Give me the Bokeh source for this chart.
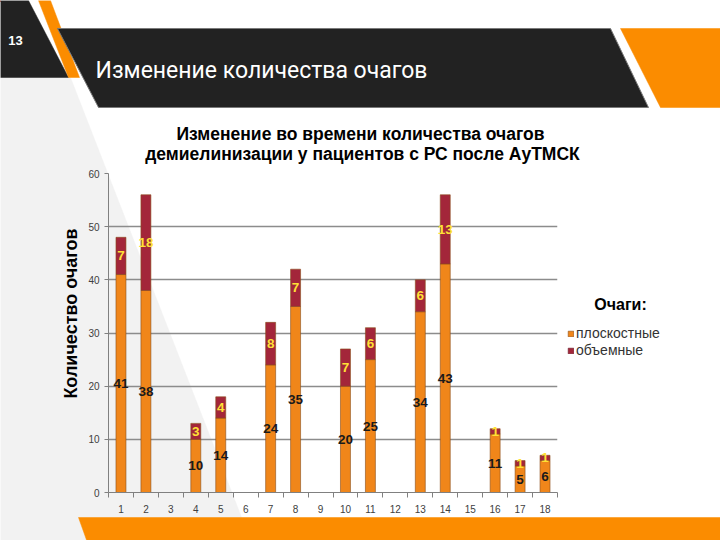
import math
from bokeh.plotting import figure
from bokeh.models import (Range1d, FixedTicker, Label, Legend, LegendItem,
                          ColumnDataSource, GridBox)
from bokeh.core.properties import value
from bokeh.embed import file_html
from bokeh.resources import INLINE

# ---- data ----
patients = list(range(1, 19))
flat = [41, 38, 0, 10, 14, 0, 24, 35, 0, 20, 25, 0, 34, 43, 0, 11, 5, 6]
vol = [7, 18, 0, 3, 4, 0, 8, 7, 0, 7, 6, 0, 6, 13, 0, 1, 1, 1]
y_ticks = [0, 10, 20, 30, 40, 50, 60]
series_names = ["плоскостные", "объемные"]
chart_title = ["Изменение во времени количества очагов",
               "демиелинизации у пациентов с РС после АуТМСК"]
y_title = "Количество очагов"
legend_title = "Очаги:"
slide_title = "Изменение количества очагов"
slide_num = "13"

ORANGE = "#F0861A"
RED = "#A3263A"
DARK = "#222222"
BRIGHT = "#FB8C00"
FONT = "Liberation Sans"

W, H = 720, 540
FL, FT, FR, FB = 108, 173, 557, 492  # chart frame edges in canvas px


# ---------------- background (slide) figure ----------------
bg = figure(width=W, height=H, output_backend="svg", toolbar_location=None,
            x_range=Range1d(0, W), y_range=Range1d(H, 0),
            x_axis_location=None, y_axis_location=None,
            min_border=0)
bg.grid.visible = False
bg.outline_line_color = None
bg.background_fill_color = "white"
bg.border_fill_color = "white"

shapes = [
    ([(0, 77), (70, 77), (252, 545), (0, 545)], "#F2F2F2", None),
    ([(0, 0), (28, 0), (68, 77), (0, 77)], DARK, None),
    ([(38, 0), (50, 0), (79, 77), (68, 77)], BRIGHT, None),
    ([(57, 28), (610, 28), (648, 107), (98, 107)], DARK, "#7a7a7a"),
    ([(620, 28), (725, 28), (725, 107), (660, 107)], BRIGHT, None),
    ([(78, 517), (725, 517), (725, 545), (88, 545)], BRIGHT, None),
]
for pts, col, lc in shapes:
    bg.patch([a for a, b in pts], [b for a, b in pts],
             fill_color=col, line_color=lc if lc else col,
             line_width=1 if lc else 0.5)


def label(text, x, y, size, color="black", bold=True, font=FONT,
          align="center", angle=0.0):
    bg.add_layout(Label(x=x, y=y, text=text, text_font=font,
                        text_font_size=size,
                        text_font_style="bold" if bold else "normal",
                        text_color=color, text_align=align,
                        text_baseline="middle", angle=angle))


label(chart_title[0], 360, 133, "17.5px")
label(chart_title[1], 362, 153, "17.5px")
label(y_title, 70, 313, "18px", angle=math.pi / 2)
label(legend_title, 620, 304, "16px")
label(slide_title, 95, 70, "23px", color="white", bold=False, font="Roboto",
      align="left")
label(slide_num, 15, 40, "13px", color="white")

# legend proxies (off-canvas) on the background figure
proxy = ColumnDataSource(dict(x=[-1000], top=[1]))
pr1 = bg.vbar(x="x", top="top", width=1, source=proxy, fill_color=ORANGE,
              line_color="#8a4e1a", line_width=0.6)
pr2 = bg.vbar(x="x", top="top", width=1, source=proxy, fill_color=RED,
              line_color="#6a1a26", line_width=0.6)
legend = Legend(items=[LegendItem(label=series_names[0], renderers=[pr1]),
                       LegendItem(label=series_names[1], renderers=[pr2])],
                location=(567, H - 358.5), orientation="vertical",
                glyph_width=7, glyph_height=7, label_height=17, spacing=0,
                padding=0, margin=0, label_standoff=2,
                label_text_font=FONT, label_text_font_size="14px",
                label_text_color="#333333",
                border_line_color=None, background_fill_alpha=0)
bg.add_layout(legend)

# ---------------- chart figure (overlay) ----------------
p = figure(width=W, height=H, output_backend="svg", toolbar_location=None,
           x_range=Range1d(0.5, 18.5), y_range=Range1d(0, 60),
           min_border_left=FL, min_border_right=W - FR,
           min_border_top=FT, min_border_bottom=H - FB)
p.background_fill_color = None
p.border_fill_color = None
p.outline_line_color = None

for fig in (bg, p):
    if "frame_align" in fig.properties():
        fig.frame_align = False

src = ColumnDataSource(dict(x=patients, flat=flat, vol=vol))
p.vbar_stack(["flat", "vol"], x="x", width=0.4, color=[ORANGE, RED],
             source=src, line_color="#8a4e1a", line_width=0.6)

fx = [x for x, f in zip(patients, flat) if f > 0]
fy = [f / 2 for f in flat if f > 0]
ft = [str(f) for f in flat if f > 0]
vx = [x for x, v in zip(patients, vol) if v > 0]
vy = [f + v / 2 for f, v in zip(flat, vol) if v > 0]
vt = [str(v) for v in vol if v > 0]
p.text(x=fx, y=fy, text=ft, text_font=value(FONT), text_font_style="bold",
       text_font_size="13.5px", text_color="#1a1a1a", text_align="center",
       text_baseline="middle")
p.text(x=vx, y=vy, text=vt, text_font=value(FONT), text_font_style="bold",
       text_font_size="13.5px", text_color="#FFE135", text_align="center",
       text_baseline="middle")

p.yaxis.ticker = FixedTicker(ticks=y_ticks)
p.yaxis.major_label_text_font = FONT
p.yaxis.major_label_text_font_size = "10px"
p.yaxis.major_label_text_color = "#404040"
p.yaxis.axis_line_color = "#808080"
p.yaxis.major_tick_line_color = "#808080"
p.yaxis.major_tick_out = 4
p.yaxis.major_tick_in = 0
p.yaxis.minor_tick_line_color = None

p.xaxis.ticker = FixedTicker(ticks=patients,
                             minor_ticks=[i + 0.5 for i in range(0, 19)])
p.xaxis.major_label_text_font = FONT
p.xaxis.major_label_text_font_size = "10px"
p.xaxis.major_label_text_color = "#404040"
p.xaxis.axis_line_color = "#808080"
p.xaxis.major_tick_line_color = None
p.xaxis.minor_tick_line_color = "#808080"
p.xaxis.minor_tick_out = 5
p.xaxis.minor_tick_in = 0
p.xaxis.major_label_standoff = 6

p.xgrid.grid_line_color = None
p.ygrid.ticker = FixedTicker(ticks=y_ticks)
p.ygrid.grid_line_color = "#8c8c8c"
p.ygrid.grid_line_width = 1.5

layout = GridBox(children=[(bg, 0, 0), (p, 0, 0)])
open("out.html", "w").write(file_html(layout, INLINE))
